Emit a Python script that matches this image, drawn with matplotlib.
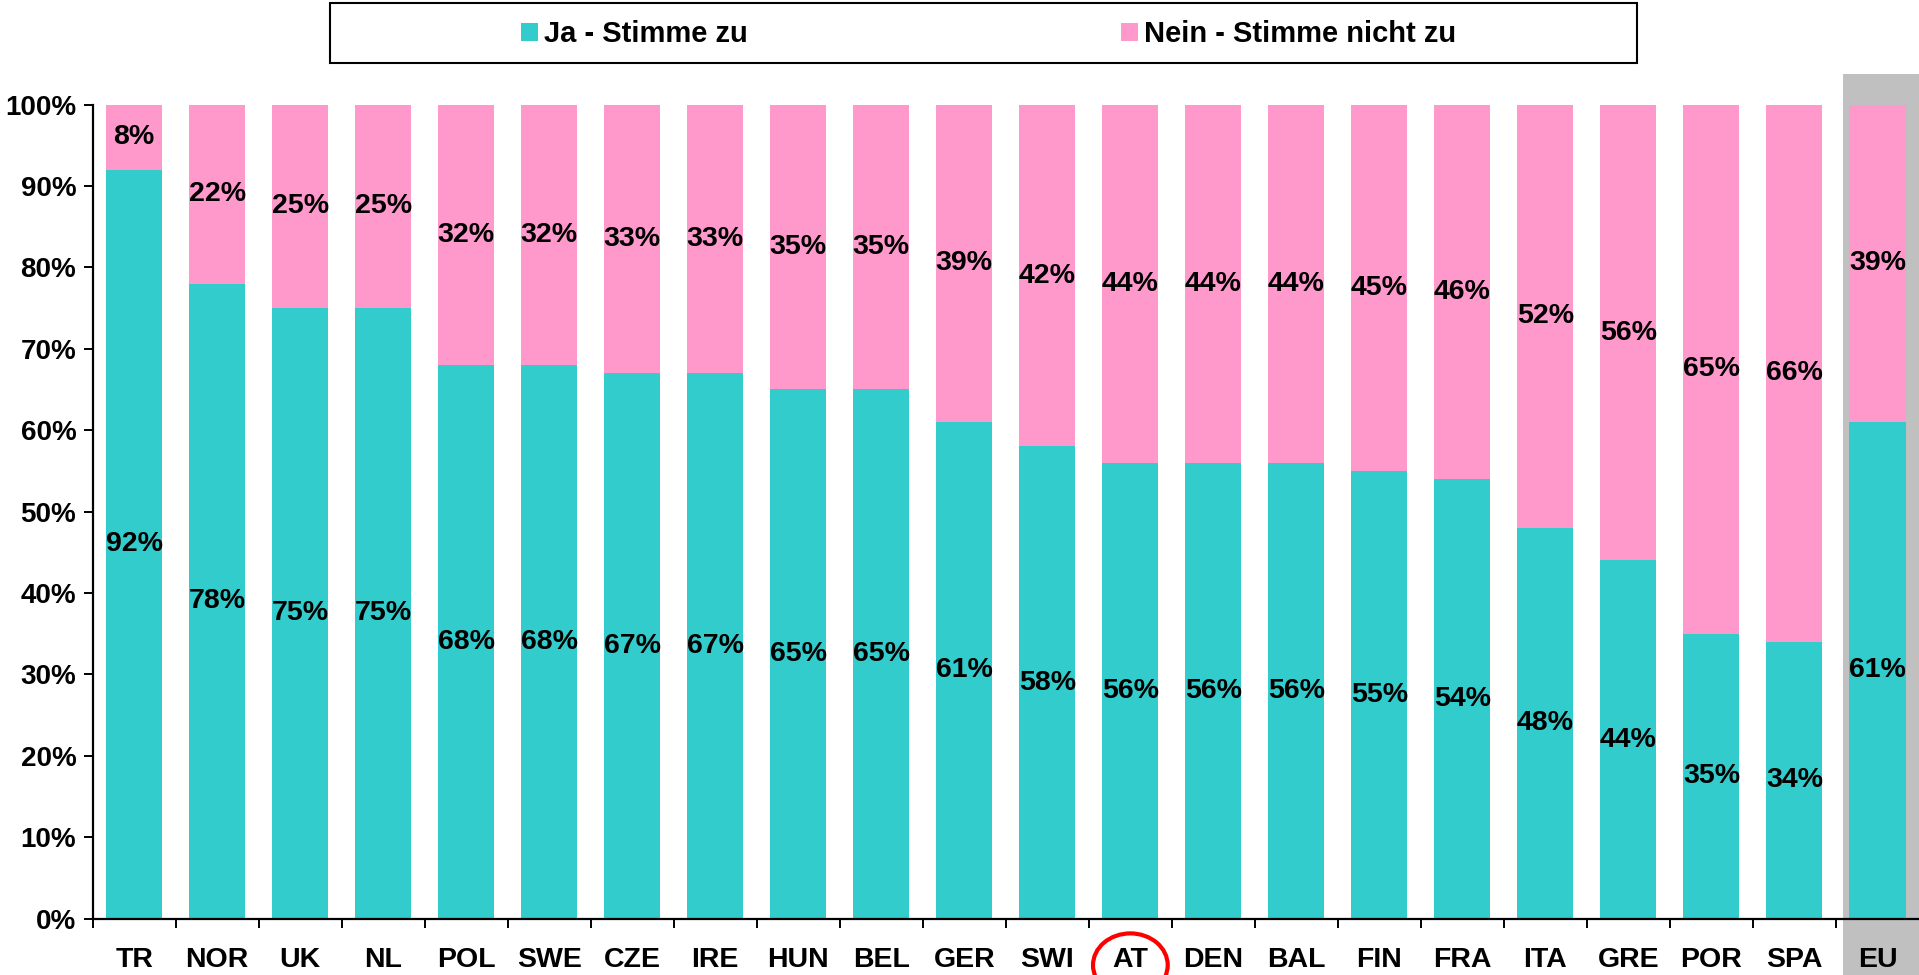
import matplotlib
matplotlib.use("Agg")
import matplotlib.pyplot as plt
from matplotlib.patches import Patch, Rectangle, Ellipse
import numpy as np

# -------------------------------
# Data (percent)
# -------------------------------
countries = ["TR", "NOR", "UK", "NL", "POL", "SWE", "CZE", "IRE", "HUN", "BEL", "GER",
             "SWI", "AT", "DEN", "BAL", "FIN", "FRA", "ITA", "GRE", "POR", "SPA", "EU"]
ja = [92, 78, 75, 75, 68, 68, 67, 67, 65, 65, 61, 58, 56, 56, 56, 55, 54, 48, 44, 35, 34, 61]
nein = [8, 22, 25, 25, 32, 32, 33, 33, 35, 35, 39, 42, 44, 44, 44, 45, 46, 52, 56, 65, 66, 39]
series_labels = ["Ja - Stimme zu", "Nein - Stimme nicht zu"]
y_ticks = [0, 10, 20, 30, 40, 50, 60, 70, 80, 90, 100]

TEAL = "#33CCCC"
PINK = "#FF99CC"
GREY = "#C0C0C0"

plt.rcParams["font.family"] = ["Liberation Sans", "DejaVu Sans"]
plt.rcParams["font.weight"] = "bold"

fig = plt.figure(figsize=(19.19, 9.75), dpi=100)
ax = fig.add_axes([0.0483, 0.0577, 0.9517, 0.8351])

x = np.arange(len(countries))
ja_frac = np.array(ja) / 100
nein_frac = np.array(nein) / 100

# grey highlight behind the EU column
ax.add_patch(Rectangle((20.59, -0.069), 0.95, 1.1065, transform=ax.get_xaxis_transform(),
                       facecolor=GREY, edgecolor="none", clip_on=False, zorder=0.5))

width = 0.675
ax.bar(x, ja_frac, width=width, color=TEAL, zorder=2)
ax.bar(x, nein_frac, width=width, bottom=ja_frac, color=PINK, zorder=2)

# value labels
for i in range(len(countries)):
    ax.text(x[i], ja_frac[i] / 2, f"{ja[i]}%", ha="center", va="center",
            fontsize=20.5, fontweight="bold", zorder=3)
    ax.text(x[i], ja_frac[i] + nein_frac[i] / 2, f"{nein[i]}%", ha="center", va="center",
            fontsize=20.5, fontweight="bold", zorder=3)

# -------------------------------
# Axes styling
# -------------------------------
ax.set_xlim(-0.5, len(countries) - 0.5)
ax.set_ylim(0, 1)
ax.set_yticks(np.array(y_ticks) / 100)
ax.set_yticklabels([f"{v}%" for v in y_ticks])
ax.set_xticks(x)
ax.set_xticklabels(countries)
ax.set_xticks(np.arange(-0.5, len(countries) - 1, 1), minor=True)

ax.tick_params(axis="x", which="major", length=0, pad=20, labelsize=20.5)
ax.tick_params(axis="x", which="minor", length=6.3, width=1.4, direction="out")
ax.tick_params(axis="y", which="major", length=6.3, width=1.4, direction="out",
               pad=5.5, labelsize=20)

for side in ["top", "right"]:
    ax.spines[side].set_visible(False)
for side in ["left", "bottom"]:
    ax.spines[side].set_linewidth(1.6)
    ax.spines[side].set_zorder(3)

# red circle around AT
at_idx = countries.index("AT")
ax.add_patch(Ellipse((at_idx, -0.057), 0.9, 0.078, transform=ax.get_xaxis_transform(),
                     facecolor="none", edgecolor="red", linewidth=3, clip_on=False, zorder=4))

# -------------------------------
# Legend with framed box
# -------------------------------
fig.patches.append(Rectangle((330 / 1919, 1 - 63 / 975), (1637 - 330) / 1919, 60 / 975,
                             transform=fig.transFigure, facecolor="white",
                             edgecolor="black", linewidth=1.5))
handles = [Patch(facecolor=TEAL, edgecolor="none"), Patch(facecolor=PINK, edgecolor="none")]
fig.legend(handles, series_labels, ncol=2, loc="center",
           bbox_to_anchor=(988.5 / 1919, 1 - 34 / 975), frameon=False,
           prop={"size": 21, "weight": "bold"}, handlelength=0.58, handleheight=0.58,
           handletextpad=0.2, columnspacing=12.8, borderpad=0, borderaxespad=0)

fig.savefig("out.png", dpi=100)
